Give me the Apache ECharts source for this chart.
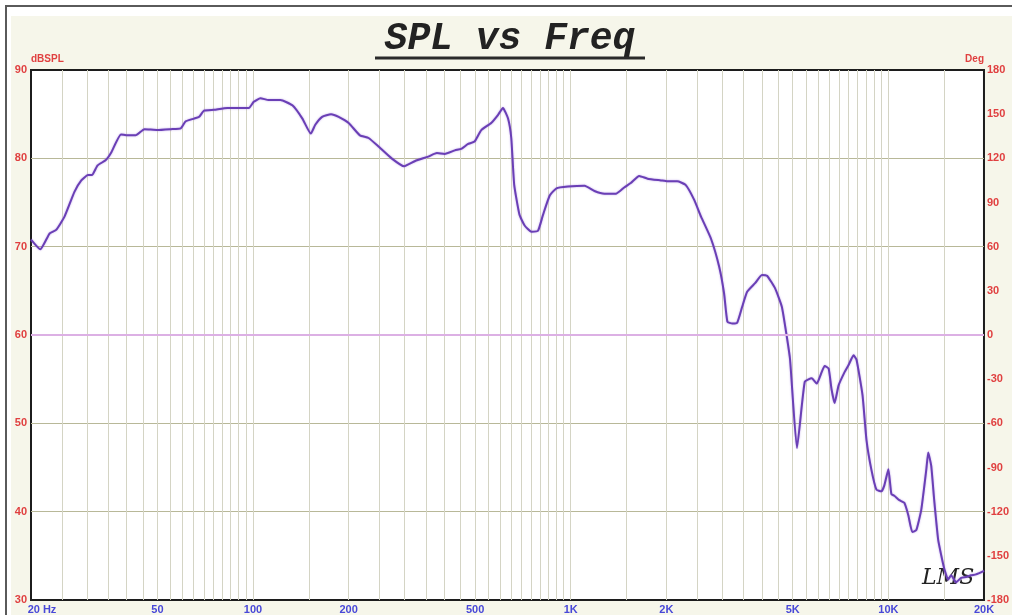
<!DOCTYPE html>
<html>
<head>
<meta charset="utf-8">
<script src="https://cdn.jsdelivr.net/npm/echarts@6/dist/echarts.min.js"></script>
<style>
  html, body { margin: 0; padding: 0; background: #fff; }
  #chart { width: 1012px; height: 615px; }
</style>
</head>
<body>
<div id="chart"></div>
<script>
  // frequency response (Hz, dBSPL)
  const freqs = [
    20, 21.4, 22.9, 24, 25.5, 27.4, 28.8, 30.2, 31.1, 32.4, 34.4, 35.7, 38.4, 40.3, 42.7, 45.5,
    50, 55.1, 59.2, 61.4, 65.2, 67.7, 70.1, 75.4, 83, 91.3, 97, 100.5, 105.5, 112, 122, 133,
    143, 152, 157, 165, 176, 186, 200, 217, 231, 249, 273, 299, 324, 356, 379, 401,
    432, 454, 474, 498, 523, 562, 590, 612, 635, 650, 664, 690, 716, 752, 789, 818,
    859, 902, 980, 1106, 1188, 1278, 1390, 1474, 1546, 1643, 1746, 1922, 2017, 2165, 2300, 2448,
    2572, 2765, 2935, 3040, 3114, 3228, 3343, 3466, 3593, 3812, 4000, 4150, 4397, 4620, 4790, 4905,
    5155, 5456, 5738, 5950, 6166, 6302, 6486, 6628, 6774, 6972, 7280, 7494, 7770, 7940, 8292, 8534,
    8848, 9172, 9510, 9718, 10002, 10220, 10444, 10828, 11226, 11556, 11894, 12242, 12692, 13160, 13350, 13642,
    13942, 14350, 14664, 14984, 15424, 15762, 16340, 16942, 17564, 18208, 18876, 20000
  ]
  const spl = [
    70.8, 69.7, 71.5, 71.9, 73.4, 76.2, 77.5, 78.1, 78.1, 79.2, 79.8, 80.6, 82.7, 82.6, 82.6, 83.3,
    83.2, 83.3, 83.4, 84.2, 84.5, 84.7, 85.4, 85.5, 85.7, 85.7, 85.7, 86.4, 86.8, 86.6, 86.6, 86.0,
    84.5, 82.8, 83.8, 84.7, 85.0, 84.7, 84.0, 82.6, 82.3, 81.3, 80.0, 79.1, 79.7, 80.2, 80.6, 80.5,
    80.9, 81.1, 81.6, 81.9, 83.2, 84.0, 84.9, 85.7, 84.5, 82.3, 77.0, 73.6, 72.4, 71.7, 71.8, 73.6,
    75.8, 76.6, 76.8, 76.9, 76.3, 76.0, 76.0, 76.7, 77.2, 78.0, 77.7, 77.5, 77.4, 77.4, 77.0, 75.3,
    73.4, 70.9, 67.7, 64.7, 61.5, 61.3, 61.4, 63.2, 64.9, 65.9, 66.8, 66.7, 65.3, 63.2, 59.8, 57.2,
    47.2, 54.7, 55.1, 54.5, 55.8, 56.5, 56.2, 53.8, 52.3, 54.3, 55.8, 56.6, 57.7, 57.2, 53.2, 48.1,
    44.7, 42.5, 42.3, 43.0, 44.8, 42.0, 41.8, 41.3, 41.0, 39.6, 37.7, 37.9, 40.2, 44.7, 46.7, 45.2,
    41.3, 36.8, 35.1, 33.6, 32.3, 32.8, 32.0, 32.5, 32.6, 32.8, 32.9, 33.3
  ]

  const labelFreqs = [20, 50, 100, 200, 500, 1000, 2000, 5000, 10000, 20000]
  const labelTexts = ['20 Hz', '50', '100', '200', '500', '1K', '2K', '5K', '10K', '20K']

  // log grid: 1.5, 2, 2.5 ... 10 in every decade
  const gridFreqs = []
  for (const d of [10, 100, 1000, 10000]) {
    for (let m = 1.5; m <= 10; m += 0.5) {
      const f = m * d
      if (f > 20 && f < 20000 && !gridFreqs.includes(f)) gridFreqs.push(f)
    }
  }

  const red = '#e04040'
  const blue = '#4848d8'
  const labelFont = { fontFamily: 'Liberation Sans', fontWeight: 'bold', fontSize: 11 }

  const chart = echarts.init(document.getElementById('chart'))

  chart.setOption({
    backgroundColor: '#f6f6ea',
    animation: false,
    grid: {
      left: 31,
      right: 24,
      top: 70,
      bottom: 15,
      show: true,
      backgroundColor: '#fff',
      borderColor: '#1c1c1c',
      borderWidth: 2,
    },
    xAxis: {
      type: 'log',
      logBase: 10,
      min: 20,
      max: 20000,
      axisLine: { show: false },
      axisTick: { show: false, customValues: gridFreqs },
      splitLine: {
        show: true,
        lineStyle: { color: '#d4d4c4', width: 1 },
      },
      axisLabel: {
        customValues: labelFreqs,
        margin: 4,
        color: blue,
        ...labelFont,
        formatter: (v) => {
          const i = labelFreqs.findIndex((f) => Math.abs(Math.log10(v / f)) < 0.01)
          const t = i < 0 ? '' : labelTexts[i]
          return i === 0 ? '{hz|' + t + '}' : t
        },
        rich: {
          hz: { padding: [0, 0, 0, 22], color: blue, ...labelFont },
        },
      },
    },
    yAxis: [
      {
        type: 'value',
        min: 30,
        max: 90,
        interval: 10,
        name: 'dBSPL',
        nameLocation: 'end',
        nameGap: 3,
        nameTextStyle: { color: red, align: 'left', ...labelFont, fontSize: 10 },
        axisLine: { show: false },
        axisTick: { show: false },
        axisLabel: { color: red, margin: 4, ...labelFont },
        splitLine: {
          show: true,
          showMinLine: false,
          showMaxLine: false,
          lineStyle: { color: '#b8b898', width: 1 },
        },
      },
      {
        type: 'value',
        position: 'right',
        min: -180,
        max: 180,
        interval: 30,
        name: 'Deg',
        nameLocation: 'end',
        nameGap: 3,
        nameTextStyle: { color: red, align: 'right', ...labelFont, fontSize: 10 },
        axisLine: { show: false },
        axisTick: { show: false },
        axisLabel: { color: red, margin: 3, ...labelFont },
        splitLine: { show: false },
      },
    ],
    graphic: [
      { type: 'rect', shape: { x: 0, y: 0, width: 1012, height: 16 }, style: { fill: '#fff' } },
      { type: 'rect', shape: { x: 0, y: 0, width: 11, height: 615 }, style: { fill: '#fff' } },
      {
        type: 'polyline',
        shape: { points: [[6, 615], [6, 6], [1012, 6]] },
        style: { stroke: '#5a5a5a', lineWidth: 2, fill: null },
      },
      {
        type: 'text',
        x: 510,
        y: 39,
        style: {
          text: 'SPL vs Freq',
          fill: '#222',
          font: 'italic bold 38px "Liberation Mono"',
          textAlign: 'center',
          textVerticalAlign: 'middle',
        },
      },
      {
        type: 'line',
        shape: { x1: 375, y1: 58, x2: 645, y2: 58 },
        style: { stroke: '#2a2a2a', lineWidth: 3 },
      },
      {
        type: 'text',
        x: 922,
        y: 578,
        style: {
          text: 'LMS',
          fill: '#222',
          font: 'italic 22px "DejaVu Serif"',
          textAlign: 'left',
          textVerticalAlign: 'middle',
        },
      },
    ],
    series: [
      {
        type: 'line',
        yAxisIndex: 0,
        showSymbol: false,
        smooth: 0.15,
        data: freqs.map((f, i) => [f, spl[i]]),
        lineStyle: {
          color: '#6a3fb5',
          width: 2,
          shadowColor: 'rgba(150,110,220,0.6)',
          shadowBlur: 2,
        },
        markLine: {
          silent: true,
          symbol: 'none',
          label: { show: false },
          lineStyle: { color: '#dcb0e4', width: 2, type: 'solid' },
          data: [{ yAxis: 60 }],
        },
        z: 3,
      },
    ],
  })
</script>
</body>
</html>
